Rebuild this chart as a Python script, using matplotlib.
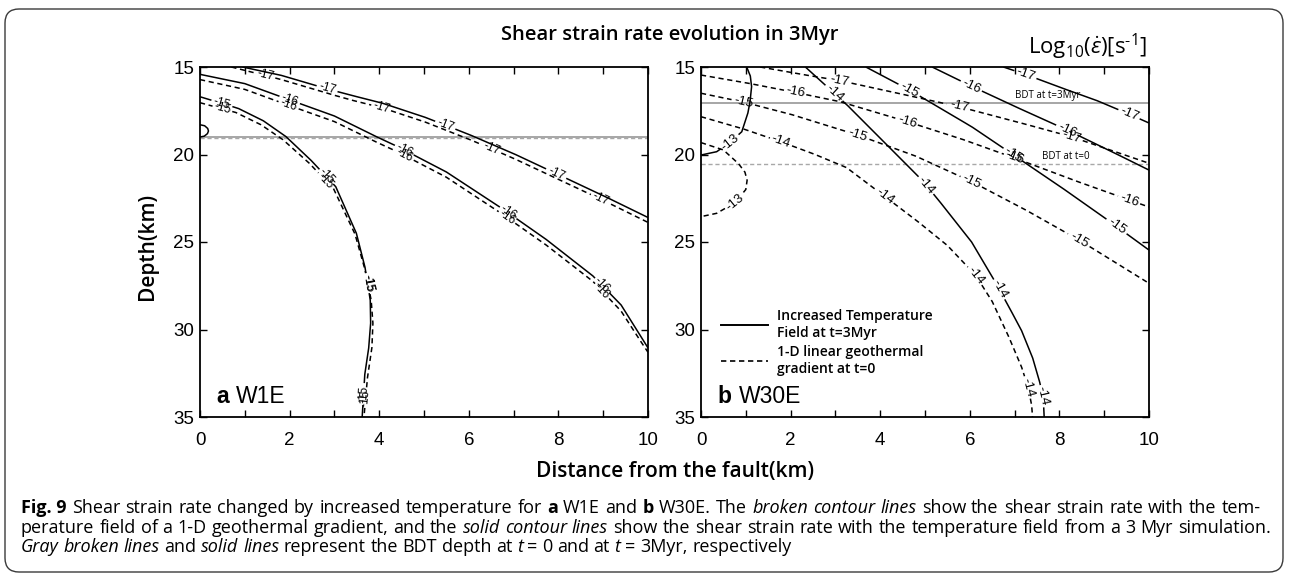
import numpy as np
import matplotlib
matplotlib.use("Agg")
import matplotlib.pyplot as plt
from matplotlib import font_manager
from matplotlib.patches import FancyBboxPatch
from matplotlib.transforms import IdentityTransform
from matplotlib.lines import Line2D
from matplotlib.ticker import MultipleLocator, FixedLocator

# ------------------------------------------------------------------ data
TITLE = "Shear strain rate evolution in 3Myr"
UNIT_LABEL = "Log$_{10}$($\\dot{\\varepsilon}$)[s$^{\u20101}$]"
XLABEL = "Distance from the fault(km)"
YLABEL = "Depth(km)"
PANEL_A = ("a", "W1E")
PANEL_B = ("b", "W30E")
X_TICKS = [0, 2, 4, 6, 8, 10]
Y_TICKS = [15, 20, 25, 30, 35]
LEGEND_LABELS = ["Increased Temperature\nField at t=3Myr",
                 "1-D linear geothermal\ngradient at t=0"]
BDT_LABELS = ["BDT at t=3Myr", "BDT at t=0"]

# panel a (W1E): brittle-ductile transition depths
A_BDT_T3 = 19.0
A_BDT_T0 = 19.06
# panel a contours (solid = 3 Myr field, dashed = linear geotherm)
A_S17_X = [0.95, 1.79, 2.84, 3.35, 4.05, 5.0, 6.0, 7.0, 8.0, 9.0, 10.0]
A_S17_Y = [15.0, 15.46, 16.25, 16.6, 17.05, 17.85, 18.85, 19.95, 21.15, 22.35, 23.6]
A_S17_LX = [2.84, 5.48, 7.94]
A_S17_LY = [16.25, 18.35, 21.1]
A_D17_X = [0.7, 1.79, 2.84, 3.35, 4.05, 5.0, 6.0, 7.0, 8.0, 9.0, 10.0]
A_D17_Y = [15.0, 15.7, 16.5, 16.87, 17.32, 18.12, 19.12, 20.22, 21.42, 22.62, 23.88]
A_D17_LX = [1.46, 4.05, 6.5, 8.95]
A_D17_LY = [15.45, 17.3, 19.7, 22.6]
A_S16_X = [0.0, 1.0, 1.86, 3.0, 3.86, 4.42, 5.5, 6.64, 7.7, 8.77, 9.4, 9.79, 10.0]
A_S16_Y = [15.42, 15.95, 16.75, 17.8, 18.89, 19.56, 21.0, 22.91, 24.8, 26.94, 28.6, 30.2, 31.05]
A_S16_LX = [2.0, 4.55, 6.87, 8.9]
A_S16_LY = [16.85, 19.7, 23.3, 27.7]
A_D16_X = [0.0, 1.0, 1.86, 3.0, 3.86, 4.42, 5.5, 6.64, 7.7, 8.77, 9.4, 9.79, 10.0]
A_D16_Y = [15.72, 16.28, 17.08, 18.12, 19.2, 19.86, 21.3, 23.22, 25.12, 27.25, 28.95, 30.5, 31.3]
A_D16_LX = [2.0, 4.55, 6.87, 8.9]
A_D16_LY = [17.1, 20.0, 23.6, 28.0]
A_S15_X = [0.0, 0.85, 1.4, 1.92, 2.47, 3.03, 3.49, 3.68, 3.8, 3.81, 3.77, 3.68, 3.62]
A_S15_Y = [16.7, 17.36, 18.05, 18.98, 20.31, 21.84, 24.5, 26.4, 28.3, 29.6, 30.98, 32.5, 35.0]
A_S15_LX = [0.5, 2.84, 3.74, 3.66]
A_S15_LY = [17.0, 21.2, 27.36, 33.7]
A_D15_X = [0.0, 0.8, 1.35, 1.85, 2.42, 2.98, 3.46, 3.67, 3.82, 3.86, 3.84, 3.74, 3.66]
A_D15_Y = [17.04, 17.6, 18.28, 19.15, 20.45, 21.95, 24.55, 26.45, 28.3, 29.6, 30.98, 32.7, 35.0]
A_D15_LX = [0.5, 2.84, 3.74, 3.66]
A_D15_LY = [17.3, 21.4, 27.4, 33.9]
A_S13_X = [0.0, 0.1, 0.17, 0.19, 0.17, 0.1, 0.0]
A_S13_Y = [18.3, 18.35, 18.5, 18.65, 18.8, 18.95, 19.0]

# panel b (W30E)
B_BDT_T3 = 17.07
B_BDT_T0 = 20.56
B_S17_X = [6.75, 7.24, 8.0, 8.81, 9.56, 10.0]
B_S17_Y = [15.0, 15.42, 16.15, 16.89, 17.7, 18.2]
B_S17_LX = [7.24, 9.56]
B_S17_LY = [15.42, 17.7]
B_S16_X = [5.16, 6.04, 6.96, 8.17, 9.1, 10.0]
B_S16_Y = [15.0, 16.1, 17.2, 18.6, 19.75, 20.89]
B_S16_LX = [6.04, 8.17]
B_S16_LY = [16.1, 18.6]
B_S15_X = [3.68, 4.65, 5.5, 6.04, 6.96, 8.0, 9.0, 10.0]
B_S15_Y = [15.0, 16.31, 17.6, 18.41, 20.0, 21.8, 23.6, 25.46]
B_S15_LX = [4.65, 6.96, 9.28]
B_S15_LY = [16.31, 20.0, 24.1]
B_S14_X = [2.33, 2.97, 3.26, 4.19, 4.93, 5.3, 6.04, 6.5, 6.85, 7.15, 7.4, 7.55, 7.64, 7.66]
B_S14_Y = [15.0, 16.49, 17.17, 19.55, 21.46, 22.6, 25.0, 26.98, 28.6, 30.03, 31.6, 32.9, 33.9, 35.0]
B_S14_LX = [2.97, 5.02, 6.69, 7.64]
B_S14_LY = [16.49, 21.75, 27.65, 33.8]
B_S13_X = [1.02, 1.1, 1.13, 1.1, 1.05, 0.91, 0.65, 0.35, 0.0]
B_S13_Y = [15.0, 15.5, 16.1, 16.9, 17.6, 18.7, 19.3, 19.84, 20.03]
B_S13_LX = [0.65]
B_S13_LY = [19.3]
B_D17_X = [1.32, 2.2, 3.1, 4.4, 5.76, 7.0, 8.26, 10.0]
B_D17_Y = [15.0, 15.4, 15.78, 16.5, 17.27, 18.1, 18.98, 20.5]
B_D17_LX = [3.1, 5.76, 8.26]
B_D17_LY = [15.78, 17.27, 18.98]
B_D16_X = [0.0, 1.0, 2.1, 3.1, 4.6, 5.8, 7.0, 8.3, 9.56, 10.0]
B_D16_Y = [15.46, 15.9, 16.45, 16.98, 18.12, 19.1, 20.2, 21.45, 22.6, 23.0]
B_D16_LX = [2.1, 4.6, 7.0, 9.56]
B_D16_LY = [16.45, 18.12, 20.2, 22.6]
B_D15_X = [0.0, 0.94, 2.0, 3.5, 4.8, 6.04, 7.2, 8.44, 10.0]
B_D15_Y = [16.5, 17.0, 17.7, 18.89, 20.1, 21.55, 23.1, 24.89, 27.36]
B_D15_LX = [0.94, 3.5, 6.04, 8.44]
B_D15_LY = [17.0, 18.89, 21.55, 24.89]
B_D14_X = [0.0, 0.9, 1.78, 2.5, 3.25, 4.0, 4.8, 5.5, 6.13, 6.5, 6.85, 7.15, 7.3, 7.38, 7.4]
B_D14_Y = [17.84, 18.5, 19.27, 19.95, 20.75, 22.2, 23.75, 25.2, 26.9, 28.4, 30.3, 32.1, 33.3, 34.3, 35.0]
B_D14_LX = [1.78, 4.09, 6.13, 7.3]
B_D14_LY = [19.27, 22.4, 26.9, 33.3]
B_D13_X = [0.0, 0.5, 0.83, 0.98, 1.03, 1.0, 0.76, 0.35, 0.0]
B_D13_Y = [19.32, 19.74, 20.5, 21.0, 21.46, 22.0, 22.75, 23.36, 23.55]
B_D13_LX = [0.76]
B_D13_LY = [22.75]

CAPTION_LINES = [
    [("Fig.\u00a09", "b"), ("Shear strain rate changed by increased temperature for", "r"),
     ("a", "b"), ("W1E and", "r"), ("b", "b"), ("W30E. The", "r"),
     ("broken contour lines", "i"), ("show the shear strain rate with the tem-", "r")],
    [("perature field of a 1-D geothermal gradient, and the", "r"),
     ("solid contour lines", "i"),
     ("show the shear strain rate with the temperature field from a 3 Myr simulation.", "r")],
    [("Gray broken lines", "i"), ("and", "r"), ("solid lines", "i"),
     ("represent the BDT depth at", "r"), ("t", "i"), ("= 0 and at", "r"), ("t", "i"),
     ("= 3Myr, respectively", "r")],
]

# ------------------------------------------------------------------ style
W, H = 1290, 576
names = {f.name for f in font_manager.fontManager.ttflist}
SANS = "Liberation Sans" if "Liberation Sans" in names else "DejaVu Sans"
NARROW = "Liberation Sans Narrow" if "Liberation Sans Narrow" in names else SANS
MYR = "Open Sans" if "Open Sans" in names else "DejaVu Sans"

plt.rcParams["font.family"] = [SANS]
plt.rcParams["mathtext.fontset"] = "custom"
plt.rcParams["mathtext.rm"] = MYR
plt.rcParams["mathtext.it"] = MYR + ":italic"
plt.rcParams["mathtext.bf"] = MYR + ":bold"

fig = plt.figure(figsize=(W / 100, H / 100), dpi=100)
fig.patch.set_facecolor("white")
renderer = fig.canvas.get_renderer()

DASH = (0, (3.4, 2.4))


def make_axes(left_px):
    ax = fig.add_axes([left_px / W, (H - 417) / H, 448 / W, 350 / H])
    ax.set_xlim(X_TICKS[0], X_TICKS[-1])
    ax.set_ylim(Y_TICKS[-1], Y_TICKS[0])
    ax.xaxis.set_major_locator(FixedLocator(X_TICKS))
    ax.xaxis.set_minor_locator(MultipleLocator(1))
    ax.yaxis.set_major_locator(FixedLocator(Y_TICKS))
    ax.tick_params(which="both", direction="in", top=True, right=True,
                   length=5, width=1.0, labelsize=13.5, color="black")
    ax.tick_params(axis="x", pad=11)
    ax.tick_params(axis="y", pad=4)
    for sp in ax.spines.values():
        sp.set_linewidth(1.3)
    return ax


def text_w(s, size, family, weight="normal", style="normal"):
    t = fig.text(0, 0, s, fontsize=size, family=family, weight=weight, style=style)
    w = t.get_window_extent(renderer).width
    t.remove()
    return w


def contour(ax, xs, ys, level, dashed, lx=(), ly=(), fs=9.0):
    pts = np.column_stack([xs, ys]).astype(float)
    dense = [np.linspace(pts[i], pts[i + 1], 40, endpoint=False) for i in range(len(pts) - 1)]
    dense.append(pts[-1:])
    d = np.vstack(dense)
    disp = ax.transData.transform(d)
    s = np.concatenate([[0.0], np.cumsum(np.hypot(*np.diff(disp, axis=0).T))])
    keep = np.ones(len(d), bool)
    label = f"{level}"
    half = text_w(label, fs, NARROW) / 2 + 1.5
    for px, py in zip(lx, ly):
        p = ax.transData.transform((px, py))
        k = int(np.argmin(np.hypot(*(disp - p).T)))
        k0, k1 = max(k - 4, 0), min(k + 4, len(d) - 1)
        dx, dy = disp[k1] - disp[k0]
        ang = np.degrees(np.arctan2(dy, dx))
        if ang > 90:
            ang -= 180
        if ang <= -90:
            ang += 180
        ax.text(d[k, 0], d[k, 1], label, rotation=ang, rotation_mode="anchor",
                ha="center", va="center", fontsize=fs, family=NARROW, zorder=5)
        keep &= np.abs(s - s[k]) > half
    yy = d[:, 1].copy()
    yy[~keep] = np.nan
    ax.plot(d[:, 0], yy, color="black", lw=1.1,
            ls=DASH if dashed else "-", zorder=4, solid_capstyle="butt")


def runs_at(x, y, runs, size, family):
    # runs of (text, weight, style) drawn left-to-right from pixel x on baseline y
    for txt, wt, st in runs:
        fig.text(x, y, txt, transform=IdentityTransform(), fontsize=size,
                 family=family, weight=wt, style=st, va="baseline", ha="left")
        x += text_w(txt, size, family, wt, st)


# ------------------------------------------------------------------ panels
ax_a = make_axes(200)
ax_b = make_axes(701)

for ax, t3, t0 in ((ax_a, A_BDT_T3, A_BDT_T0), (ax_b, B_BDT_T3, B_BDT_T0)):
    ax.plot(X_TICKS[::5], [t3, t3], color="#8e8e8e", lw=1.1, zorder=2)
    ax.plot(X_TICKS[::5], [t0, t0], color="#a8a8a8", lw=1.0, ls=(0, (3, 2)), zorder=2)

fa = 8.5
contour(ax_a, A_S17_X, A_S17_Y, -17, False, A_S17_LX, A_S17_LY, fa)
contour(ax_a, A_D17_X, A_D17_Y, -17, True, A_D17_LX, A_D17_LY, fa)
contour(ax_a, A_S16_X, A_S16_Y, -16, False, A_S16_LX, A_S16_LY, fa)
contour(ax_a, A_D16_X, A_D16_Y, -16, True, A_D16_LX, A_D16_LY, fa)
contour(ax_a, A_S15_X, A_S15_Y, -15, False, A_S15_LX, A_S15_LY, fa)
contour(ax_a, A_D15_X, A_D15_Y, -15, True, A_D15_LX, A_D15_LY, fa)
contour(ax_a, A_S13_X, A_S13_Y, -13, False)

fb = 9.5
contour(ax_b, B_S17_X, B_S17_Y, -17, False, B_S17_LX, B_S17_LY, fb)
contour(ax_b, B_S16_X, B_S16_Y, -16, False, B_S16_LX, B_S16_LY, fb)
contour(ax_b, B_S15_X, B_S15_Y, -15, False, B_S15_LX, B_S15_LY, fb)
contour(ax_b, B_S14_X, B_S14_Y, -14, False, B_S14_LX, B_S14_LY, fb)
contour(ax_b, B_S13_X, B_S13_Y, -13, False, B_S13_LX, B_S13_LY, fb)
contour(ax_b, B_D17_X, B_D17_Y, -17, True, B_D17_LX, B_D17_LY, fb)
contour(ax_b, B_D16_X, B_D16_Y, -16, True, B_D16_LX, B_D16_LY, fb)
contour(ax_b, B_D15_X, B_D15_Y, -15, True, B_D15_LX, B_D15_LY, fb)
contour(ax_b, B_D14_X, B_D14_Y, -14, True, B_D14_LX, B_D14_LY, fb)
contour(ax_b, B_D13_X, B_D13_Y, -13, True, B_D13_LX, B_D13_LY, fb)

# BDT annotations
ax_b.text(7.0, B_BDT_T3 - 0.12, BDT_LABELS[0], fontsize=7, family=MYR, va="bottom", ha="left")
ax_b.text(7.62, B_BDT_T0 - 0.12, BDT_LABELS[1], fontsize=7, family=MYR, va="bottom", ha="left")

# legend
handles = [Line2D([], [], color="black", lw=1.4),
           Line2D([], [], color="black", lw=1.2, ls=(0, (3.2, 2.2)))]
leg = ax_b.legend(handles, LEGEND_LABELS, loc="upper left", bbox_to_anchor=(0.044, 0.309),
                  frameon=False, prop={"family": MYR, "weight": "semibold", "size": 10},
                  handlelength=3.4, handletextpad=0.65, labelspacing=0.3,
                  borderpad=0, borderaxespad=0)
for t in leg.get_texts():
    t.set_linespacing(1.33)

# panel tags
for ax, (tag, name), x0 in ((ax_a, PANEL_A, 0.37), (ax_b, PANEL_B, 0.39)):
    px, py = ax.transData.transform((x0, 34.22))
    runs_at(px, py, [(tag + " ", "bold", "normal"), (name, "normal", "normal")], 16.5, SANS)

# ------------------------------------------------------------------ figure texts
fig.text(670 / W, 1 - 35 / H, TITLE, ha="center", va="center", fontsize=14.5,
         family=MYR, weight="semibold")
fig.text(1147 / W, 1 - 54 / H, UNIT_LABEL, ha="right", va="baseline", fontsize=16, family=MYR)
fig.text(147 / W, 1 - 246 / H, YLABEL, rotation=90, ha="center", va="center",
         fontsize=15, family=MYR, weight="semibold")
fig.text(675 / W, 1 - 472 / H, XLABEL, ha="center", va="center", fontsize=15,
         family=MYR, weight="semibold")

# caption (justified lines)
CAP_SIZE = 13.0
STY = {"r": ("normal", "normal"), "b": ("bold", "normal"), "i": ("normal", "italic")}
baselines = [513, 533, 552]
rights = [1261, 1271, None]
left = 21


def caption_layout(size):
    sp = text_w("a a", size, MYR) - text_w("aa", size, MYR)
    rows = []
    for segs in CAPTION_LINES:
        words = [(wd, st) for txt, st in segs for wd in txt.split(" ")]
        widths = [text_w(wd, size, MYR, *STY[st]) for wd, st in words]
        rows.append((words, widths))
    return sp, rows


space_w, rows = caption_layout(CAP_SIZE)
while any(r is not None and (r - left - sum(w)) / (len(wd) - 1) < 0.8 * space_w
          for (wd, w), r in zip(rows, rights)):
    CAP_SIZE -= 0.2
    space_w, rows = caption_layout(CAP_SIZE)

for (words, widths), base, right in zip(rows, baselines, rights):
    if right is None:
        gap = space_w
    else:
        gap = (right - left - sum(widths)) / (len(words) - 1)
    x = left
    for (wd, st), wdt in zip(words, widths):
        wt, it = STY[st]
        fig.text(x, H - base, wd, transform=IdentityTransform(), fontsize=CAP_SIZE,
                 family=MYR, weight=wt, style=it, va="baseline", ha="left")
        x += wdt + gap

# rounded frame
frame = FancyBboxPatch((5, H - 572), 1278, 563, boxstyle="round,pad=0,rounding_size=14",
                       transform=IdentityTransform(), fill=False, ec="#3a3a3a", lw=1.0)
fig.patches.append(frame)

fig.savefig("out.png", dpi=100, facecolor="white")
